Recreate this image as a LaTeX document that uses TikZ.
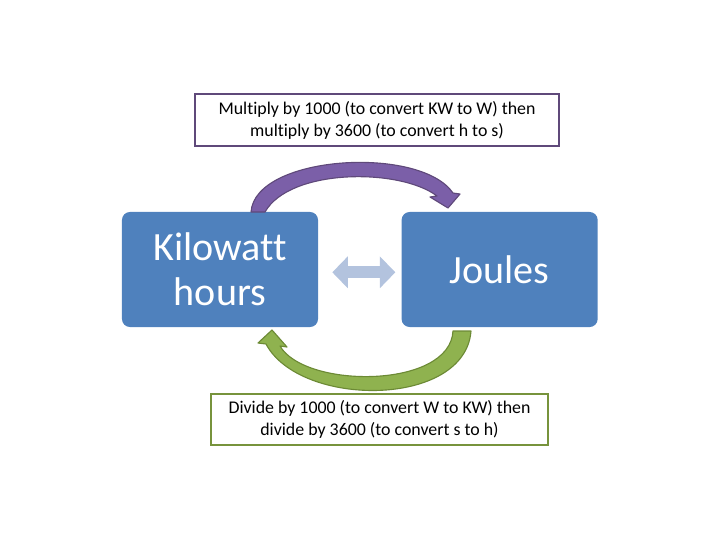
\documentclass[tikz,border=0pt]{standalone}
\usepackage{fontspec}
\setmainfont{Carlito}[Ligatures=NoCommon]
\usetikzlibrary{positioning}
\usetikzlibrary{arrows.meta}
\definecolor{boxblue}{HTML}{4F81BD}
\definecolor{lineviolet}{HTML}{5F497A}
\definecolor{arrowviolet}{HTML}{7B5FA8}
\definecolor{lineolive}{HTML}{77933C}
\definecolor{arrowolive}{HTML}{8FB24F}
\definecolor{darkolive}{HTML}{6C8A35}
\definecolor{paleblue}{HTML}{B3C3DE}
\tikzset{unit/.style={draw=none, fill=boxblue, rounded corners=0.2cm, text=white,
    minimum width=4.9cm, minimum height=2.875cm, align=center,
    font=\fontsize{28.5}{32}\selectfont}}
\tikzset{note/.style={draw, fill=white, line width=1.4pt, align=center,
    font=\fontsize{12.7}{15.6}\selectfont, inner sep=0pt}}

\begin{document}
\begin{tikzpicture}[x=0.025cm, y=-0.025cm]
\useasboundingbox (0,0) rectangle (720,540);
\node (kwh) [unit] at (220,269.5) {Kilowatt\\hours};
\node (joule) [unit, right=2.075cm of kwh] {Joules};
\node (mult) [note, draw=lineviolet, minimum width=9.1cm, minimum height=1.3cm] at (377,120)
	{Multiply by 1000 (to convert KW to W) then\\multiply by 3600 (to convert h to s)};
\node (div) [note, draw=lineolive, minimum width=8.425cm, minimum height=1.275cm] at (379.5,419.5)
	{Divide by 1000 (to convert W to KW) then\\divide by 3600 (to convert s to h)};

% both ways
\draw [paleblue, line width=12*0.711pt, {Triangle[width=22pt, length=11pt]}-{Triangle[width=22pt, length=11pt]},
	shorten <=0.35cm, shorten >=0.15cm] ([yshift=-0.07cm]kwh.east) -- ([yshift=-0.07cm]joule.west);

% kWh -> J
\filldraw [fill=arrowviolet, draw=lineviolet, line width=0.8pt, line join=round]
	(251,212) .. controls (255,155) and (420,145) .. (453,193) -- (460,194) -- (448,208)
	-- (430,197) -- (437,196) .. controls (400,168) and (290,168) .. (265,212) -- cycle;

% J -> kWh
\filldraw [fill=arrowolive, draw=darkolive, line width=0.8pt, line join=round]
	(471,331) .. controls (465,408) and (300,408) .. (266,344) -- (258,343) -- (272,330)
	-- (287,347) -- (280,346) .. controls (305,389) and (450,389) .. (453,331) -- cycle;
\end{tikzpicture}
\end{document}
